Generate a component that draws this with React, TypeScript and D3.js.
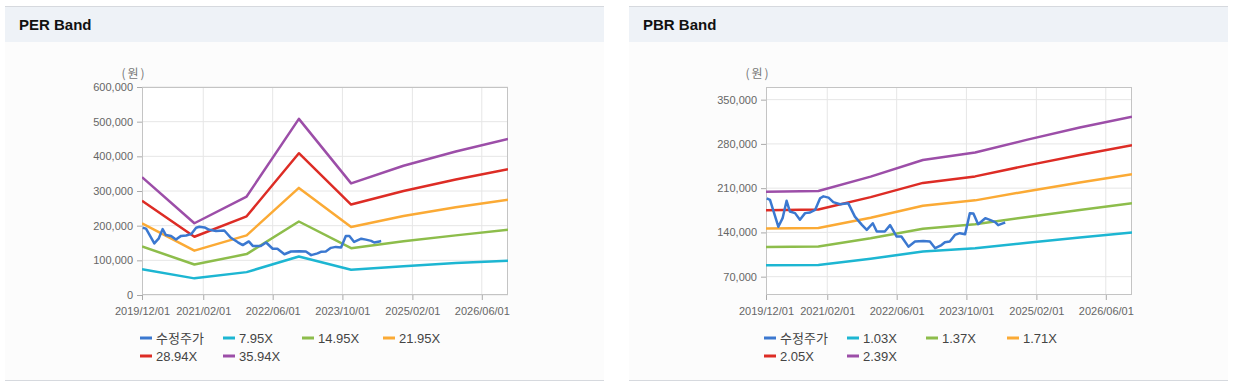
import React, { useEffect, useRef } from "react";
import * as d3 from "d3";

// band dates (yearly points) and x axis ticks
const bandDates = [
  "2019-12-01", "2020-12-01", "2021-12-01", "2022-12-01",
  "2023-12-01", "2024-12-01", "2025-12-01", "2026-12-01",
];
const xTickDates = [
  "2019-12-01", "2021-02-01", "2022-06-01", "2023-10-01", "2025-02-01", "2026-06-01",
];

// PER band values (원)
const perLabels = ["7.95X", "14.95X", "21.95X", "28.94X", "35.94X"];
const per795 = [74000, 48000, 66000, 111000, 73000, 83000, 92000, 99000];
const per1495 = [140000, 88000, 118000, 212000, 135000, 155000, 172000, 188000];
const per2195 = [207000, 128000, 172000, 309000, 196000, 228000, 253000, 275000];
const per2894 = [272000, 168000, 227000, 409000, 261000, 300000, 333000, 363000];
const per3594 = [340000, 207000, 284000, 508000, 322000, 373000, 414000, 450000];
const perYTicks = [0, 100000, 200000, 300000, 400000, 500000, 600000];

// PBR band values (원)
const pbrLabels = ["1.03X", "1.37X", "1.71X", "2.05X", "2.39X"];
const pbr103 = [88000, 88600, 98400, 109700, 114800, 123600, 131800, 140000];
const pbr137 = [117000, 117800, 130800, 145900, 152800, 164400, 175400, 186000];
const pbr171 = [146000, 147100, 163300, 182100, 190700, 205200, 218900, 232000];
const pbr205 = [175000, 176300, 195800, 218300, 228600, 246000, 262400, 278000];
const pbr239 = [204500, 205500, 228200, 254500, 266500, 286800, 305900, 323000];
const pbrYTicks = [70000, 140000, 210000, 280000, 350000];

// 수정주가 (adjusted price)
const priceLabel = "수정주가";
const priceDates = [
  "2019-12-06", "2019-12-29", "2020-02-25", "2020-03-26", "2020-04-23", "2020-05-16",
  "2020-06-21", "2020-07-25", "2020-08-30", "2020-10-04", "2020-11-08", "2020-12-13",
  "2021-01-05", "2021-02-10", "2021-03-15", "2021-05-01", "2021-06-28", "2021-08-13",
  "2021-10-01", "2021-11-04", "2021-12-16", "2022-01-13", "2022-03-10", "2022-04-16",
  "2022-06-01", "2022-07-04", "2022-08-22", "2022-10-07", "2022-12-04", "2023-01-19",
  "2023-02-25", "2023-04-10", "2023-05-04", "2023-06-07", "2023-07-13", "2023-08-16",
  "2023-09-22", "2023-10-25", "2023-11-19", "2023-12-22", "2024-02-10", "2024-03-13",
  "2024-04-19", "2024-05-10", "2024-06-16", "2024-06-28",
];
const priceValues = [
  194000, 191500, 149000, 162500, 190000, 173000,
  170500, 160000, 170500, 171500, 175500, 194000,
  197000, 195000, 188000, 184500, 186000, 165000,
  152000, 144000, 154500, 141500, 141500, 151500,
  133500, 133500, 117500, 125500, 126500, 125500,
  115000, 120000, 124500, 125500, 136000, 138800,
  137200, 170400, 170000, 153000, 162500, 159800,
  156200, 151400, 154600, 155600,
];

const priceColor = "#3b78d0";
const bandColors = ["#1db6d2", "#8dbd4b", "#fbaa35", "#dd2c25", "#9c4ea8"];

const parse = d3.timeParse("%Y-%m-%d");
const fmt = d3.timeFormat("%Y/%m/%d");

type BandChartProps = {
  x0: number; // panel left
  x1: number; // panel right
  title: string;
  yDomain: [number, number];
  yTicks: number[];
  labels: string[];
  bands: number[][];
};

const BandChart: React.FC<BandChartProps> = ({ x0, x1, title, yDomain, yTicks, labels, bands }) => {
  const gRef = useRef<SVGGElement | null>(null);

  useEffect(() => {
    const g = d3.select(gRef.current);
    g.selectAll("*").remove();

    const plotLeft = x0 + 137;
    const plotRight = plotLeft + 366;
    const plotTop = 87;
    const plotBottom = 295;

    // panel frame
    g.append("rect").attr("x", x0).attr("y", 6).attr("width", x1 - x0).attr("height", 374).attr("fill", "#fcfcfc");
    g.append("rect").attr("x", x0).attr("y", 7).attr("width", x1 - x0).attr("height", 35).attr("fill", "#eef2f7");
    g.append("line").attr("x1", x0).attr("x2", x1).attr("y1", 6.5).attr("y2", 6.5).attr("stroke", "#d6d9de");
    g.append("line").attr("x1", x0).attr("x2", x1).attr("y1", 380.5).attr("y2", 380.5).attr("stroke", "#d6d9de");
    g.append("text")
      .attr("x", x0 + 14)
      .attr("y", 30)
      .attr("font-family", "'Liberation Sans', Arial, sans-serif")
      .attr("font-weight", "bold")
      .attr("font-size", 15)
      .attr("fill", "#111")
      .text(title);

    const xScale = d3
      .scaleTime()
      .domain([parse("2019-12-01") as Date, parse("2026-12-01") as Date])
      .range([plotLeft, plotRight]);
    const yScale = d3.scaleLinear().domain(yDomain).range([plotBottom, plotTop]);
    const xTicks = xTickDates.map((d) => parse(d) as Date);

    g.append("rect")
      .attr("x", plotLeft).attr("y", plotTop)
      .attr("width", plotRight - plotLeft).attr("height", plotBottom - plotTop)
      .attr("fill", "#fff");

    // grid
    g.selectAll(".vgrid").data(xTicks.slice(1)).enter().append("line")
      .attr("x1", (d) => xScale(d)).attr("x2", (d) => xScale(d))
      .attr("y1", plotTop).attr("y2", plotBottom)
      .attr("stroke", "#e6e6e6");
    g.selectAll(".hgrid").data(yTicks).enter().append("line")
      .attr("x1", plotLeft).attr("x2", plotRight)
      .attr("y1", (d) => yScale(d)).attr("y2", (d) => yScale(d))
      .attr("stroke", "#e6e6e6");

    // axes
    const yAxis = g.append("g")
      .attr("transform", `translate(${plotLeft},0)`)
      .call(d3.axisLeft(yScale).tickValues(yTicks).tickSize(5).tickPadding(4).tickFormat((d) => d3.format(",")(d as number)));
    const xAxis = g.append("g")
      .attr("transform", `translate(0,${plotBottom})`)
      .call(d3.axisBottom(xScale).tickValues(xTicks).tickSize(5).tickPadding(7).tickFormat((d) => fmt(d as Date)));
    [yAxis, xAxis].forEach((a) => {
      a.select(".domain").remove();
      a.selectAll(".tick line").attr("stroke", "#aaa");
      a.selectAll(".tick text")
        .attr("fill", "#666")
        .attr("font-size", 11)
        .attr("font-family", "'Liberation Sans', Arial, sans-serif");
    });

    g.append("rect")
      .attr("x", plotLeft + 0.5).attr("y", plotTop + 0.5)
      .attr("width", plotRight - plotLeft - 1).attr("height", plotBottom - plotTop - 1)
      .attr("fill", "none").attr("stroke", "#c4c4c4");

    g.append("text")
      .attr("x", plotLeft - 8)
      .attr("y", 78)
      .attr("text-anchor", "middle")
      .attr("font-family", "'Noto Sans CJK KR', sans-serif")
      .attr("font-size", 12)
      .attr("letter-spacing", 2)
      .attr("fill", "#777")
      .text("(원)");

    // lines
    const clipId = `clip-${x0}`;
    g.append("clipPath").attr("id", clipId).append("rect")
      .attr("x", plotLeft).attr("y", plotTop)
      .attr("width", plotRight - plotLeft).attr("height", plotBottom - plotTop);
    const plot = g.append("g").attr("clip-path", `url(#${clipId})`);

    const line = d3.line<[Date, number]>().x((d) => xScale(d[0])).y((d) => yScale(d[1]));

    bands.forEach((vals, i) => {
      plot.append("path")
        .datum(vals.map((v, j) => [parse(bandDates[j]) as Date, v] as [Date, number]))
        .attr("d", line)
        .attr("fill", "none")
        .attr("stroke", bandColors[i])
        .attr("stroke-width", 2.5)
        .attr("stroke-linejoin", "round");
    });
    plot.append("path")
      .datum(priceValues.map((v, j) => [parse(priceDates[j]) as Date, v] as [Date, number]))
      .attr("d", line)
      .attr("fill", "none")
      .attr("stroke", priceColor)
      .attr("stroke-width", 2.5)
      .attr("stroke-linejoin", "round");

    // legend
    const items = [{ label: priceLabel, color: priceColor }].concat(
      labels.map((l, i) => ({ label: l, color: bandColors[i] }))
    );
    const colX = [0, 83, 162, 243];
    items.forEach((it, i) => {
      const lx = plotLeft - 2 + colX[i % 4];
      const ly = 338 + Math.floor(i / 4) * 18;
      g.append("line")
        .attr("x1", lx).attr("x2", lx + 12)
        .attr("y1", ly).attr("y2", ly)
        .attr("stroke", it.color).attr("stroke-width", 3);
      g.append("text")
        .attr("x", lx + 16)
        .attr("y", ly + 4.5)
        .attr("font-family", "'Liberation Sans', 'Noto Sans CJK KR', sans-serif")
        .attr("font-size", 13)
        .attr("fill", "#444")
        .text(it.label);
    });
  }, [x0, x1, title, yDomain, yTicks, labels, bands]);

  return <g ref={gRef}></g>;
};

export default function App() {
  return (
    <div style={{ position: "absolute", left: 0, top: 0 }}>
      <svg width={1236} height={385} style={{ display: "block", background: "#fff" }}>
        <BandChart
          x0={5}
          x1={604}
          title="PER Band"
          yDomain={[0, 600000]}
          yTicks={perYTicks}
          labels={perLabels}
          bands={[per795, per1495, per2195, per2894, per3594]}
        />
        <BandChart
          x0={629}
          x1={1228}
          title="PBR Band"
          yDomain={[41000, 370000]}
          yTicks={pbrYTicks}
          labels={pbrLabels}
          bands={[pbr103, pbr137, pbr171, pbr205, pbr239]}
        />
      </svg>
    </div>
  );
}
